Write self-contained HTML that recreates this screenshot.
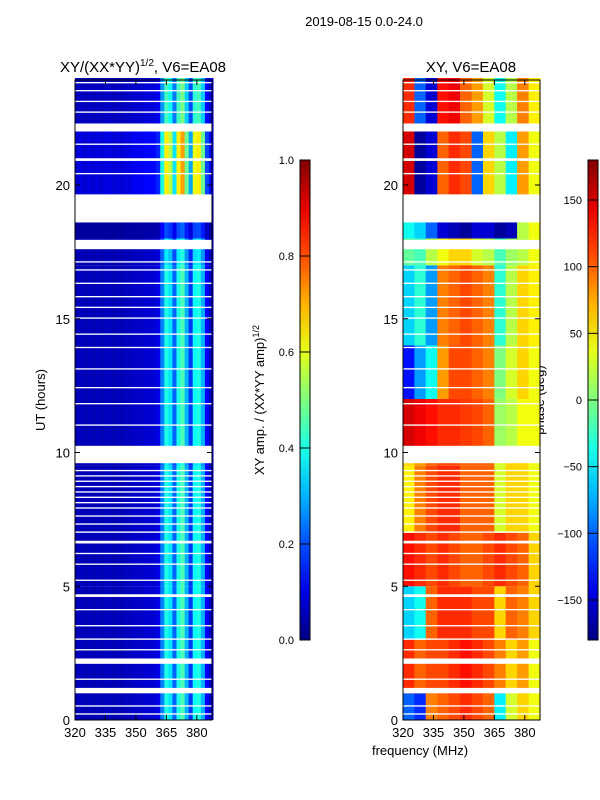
<!DOCTYPE html>
<html><head><meta charset="utf-8">
<style>
html,body{margin:0;padding:0;background:#fff;}
svg{display:block;font-family:"Liberation Sans",sans-serif;}
</style></head>
<body>
<svg id="fig" width="600" height="800" viewBox="0 0 600 800">
<text x="364" y="26" font-size="13" text-anchor="middle">2019-08-15 0.0-24.0</text>
<text x="143" y="72" font-size="15" text-anchor="middle">XY/(XX*YY)<tspan font-size="10" dy="-6">1/2</tspan><tspan dy="6">, V6=EA08</tspan></text>
<text x="471" y="72" font-size="15" text-anchor="middle">XY, V6=EA08</text>
<text x="45" y="400" font-size="13" text-anchor="middle" transform="rotate(-90 45 400)">UT (hours)</text>
<text x="420" y="755" font-size="13" text-anchor="middle">frequency (MHz)</text>
<text x="264" y="400" font-size="13" text-anchor="middle" transform="rotate(-90 264 400)">XY amp. / (XX*YY amp)<tspan font-size="9" dy="-5">1/2</tspan></text>
<text x="544" y="400" font-size="13" text-anchor="middle" transform="rotate(-90 544 400)">phase (deg)</text>
<g id="amp"></g>
<g id="pha"></g>
<g id="axes"></g>
</svg>
<script>
// ---- data ----
const hourBlocks = [0,1,3,5,7,9.5,10.2,12,14,17,18,19.6,22,24];
const ampChannels = [320,322,324,326,328,330,332,334,336,338,340,342,344,346,348,350,352,354,356,358,360,362,364,366,368,370,372,374,376,378,380,382,384,386,388];
const ampProfile = [0.05,0.06,0.05,0.06,0.05,0.06,0.05,0.06,0.06,0.05,0.06,0.05,0.06,0.06,0.07,0.07,0.07,0.08,0.08,0.08,0.1,0.25,0.4,0.35,0.22,0.4,0.45,0.3,0.18,0.38,0.4,0.3,0.12,0.08];
const ampScale = [1,1,1,1,1,0.9,1,1,1,0.9,0.5,1.6,1.1];
const phaseCols = [320,325.6,331.2,336.9,342.5,348.1,353.8,359.4,365,370.6,376.2,381.9,387.5];
const phaseGrid = [
 [-100,-120,90,100,110,120,110,100,-50,30,60,40],
 [120,100,110,110,120,130,120,110,90,60,80,40],
 [-60,-40,100,120,120,120,110,110,60,100,90,60],
 [130,120,110,120,110,100,100,110,120,110,100,60],
 [50,90,110,120,120,100,100,100,30,60,60,40],
 [60,80,100,110,110,100,100,100,30,60,60,40],
 [150,140,130,120,120,115,110,100,10,20,40,40],
 [-130,-80,-40,80,110,110,100,90,0,30,60,40],
 [-60,-30,-80,90,100,110,100,90,-30,20,60,50],
 [-10,-20,20,40,60,60,30,20,-20,10,20,40],
 [-40,-60,-100,-150,-160,-170,-150,-150,-170,-160,20,40],
 [150,-170,-150,100,120,110,-100,60,20,-50,80,40],
 [120,-100,-150,130,140,100,80,30,-40,20,90,50]
];
const gaps = [[0.2,0.25],[0.5,0.55],[1.0,1.2],[1.5,1.55],[2.1,2.3],[2.6,2.65],[3.0,3.05],[3.5,3.55],[4.1,4.15],[4.6,4.7],[5.2,5.25],[5.8,5.85],[6.2,6.25],[6.6,6.7],[7.0,7.05],[7.3,7.35],[7.6,7.65],[7.9,7.95],[8.1,8.15],[8.3,8.35],[8.5,8.55],[8.7,8.75],[8.9,8.95],[9.1,9.15],[9.3,9.35],[9.6,10.25],[11.0,11.05],[11.8,11.85],[12.4,12.45],[13.1,13.15],[13.9,13.95],[14.4,14.45],[15.0,15.05],[15.4,15.45],[15.8,15.85],[16.3,16.35],[16.8,16.85],[17.1,17.15],[17.6,17.95],[18.6,19.65],[20.4,20.45],[20.9,21.0],[21.5,21.55],[22.0,22.3],[22.7,22.75],[23.1,23.15],[23.5,23.55],[23.8,23.85]];
const xTicks = [320,335,350,365,380];
const yTicks = [0,5,10,15,20];
const ampTicks = [0.0,0.2,0.4,0.6,0.8,1.0];
const phaseTicks = [-150,-100,-50,0,50,100,150];

const NS="http://www.w3.org/2000/svg";
function jet(v){v=Math.max(0,Math.min(1,v));
 const r=Math.max(0,Math.min(1,1.5-Math.abs(4*v-3))),g=Math.max(0,Math.min(1,1.5-Math.abs(4*v-2))),b=Math.max(0,Math.min(1,1.5-Math.abs(4*v-1)));
 return `rgb(${Math.round(r*255)},${Math.round(g*255)},${Math.round(b*255)})`;}
const yT=h=>720-26.75*h;
const xL=f=>75+(f-320)*2.03;
const xR=f=>403+(f-320)*2.03;
function mk(tag,attrs,parent){const e=document.createElementNS(NS,tag);for(const k in attrs)e.setAttribute(k,attrs[k]);parent.appendChild(e);return e;}
const amp=document.getElementById('amp'),pha=document.getElementById('pha'),axes=document.getElementById('axes'),fig=document.getElementById('fig');
for(let b=0;b<hourBlocks.length-1;b++){
 const y0=yT(hourBlocks[b+1]),y1=yT(hourBlocks[b]);
 for(let c=0;c<ampProfile.length;c++){
  const r=mk('rect',{x:xL(ampChannels[c]),y:y0,width:xL(ampChannels[c+1])-xL(ampChannels[c])+0.5,height:y1-y0,fill:jet(ampProfile[c]*ampScale[b])},amp);
  
  
 }
 for(let c=0;c<phaseGrid[b].length;c++){
  const r=mk('rect',{x:xR(phaseCols[c]),y:y0,width:xR(phaseCols[c+1])-xR(phaseCols[c])+0.5,height:y1-y0,fill:jet((phaseGrid[b][c]+180)/360)},pha);
  
  
 }
}
for(const g of gaps){
 for(const [xf,p] of [[xL,amp],[xR,pha]]){
  const r=mk('rect',{x:xf(320),y:yT(g[1]),width:137,height:yT(g[0])-yT(g[1]),fill:'#fff'},p);
  
  
 }
}
// axes frames & ticks
for(const x0 of [75,403]){
 const fr=mk('rect',{x:x0,y:80,width:137,height:640,fill:'none',stroke:'#000','stroke-width':1},axes);
 
 
 for(const t of xTicks){const x=x0+(t-320)*2.03;
  mk('line',{x1:x,x2:x,y1:720,y2:715,stroke:'#000'},axes);mk('line',{x1:x,x2:x,y1:80,y2:85,stroke:'#000'},axes);
  const tx=mk('text',{x:x,y:737,'font-size':13,'text-anchor':'middle'},axes);tx.textContent=t;
  
  }
 for(const t of yTicks){const y=yT(t);
  mk('line',{x1:x0,x2:x0+5,y1:y,y2:y,stroke:'#000'},axes);mk('line',{x1:x0+137,x2:x0+132,y1:y,y2:y,stroke:'#000'},axes);
  const tx=mk('text',{x:x0-5,y:y+5,'font-size':13,'text-anchor':'end'},axes);tx.textContent=t;
  
  }
}
// colorbars
const defs=mk('defs',{},fig);const gr=mk('linearGradient',{id:'jetg',x1:0,y1:1,x2:0,y2:0},defs);
for(let i=0;i<=10;i++)mk('stop',{offset:i/10,'stop-color':jet(i/10)},gr);
function cbar(x,ticks,lo,hi,name){
 const r=mk('rect',{x:x,y:160,width:10,height:480,fill:'url(#jetg)',stroke:'#000'},axes);
 
 
 for(const t of ticks){const y=640-(t-lo)/(hi-lo)*480;
  mk('line',{x1:x,x2:x+10,y1:y,y2:y,stroke:'#000'},axes);
  const tx=mk('text',{x:x-6,y:y+4,'font-size':11,'text-anchor':'end'},axes);tx.textContent=(lo===0?t.toFixed(1):String(t).replace('-','\u2212'));
  
  }
}
cbar(300,ampTicks,0,1,'amp-colorbar');
cbar(588,phaseTicks,-180,180,'phase-colorbar');
</script>
</body></html>
